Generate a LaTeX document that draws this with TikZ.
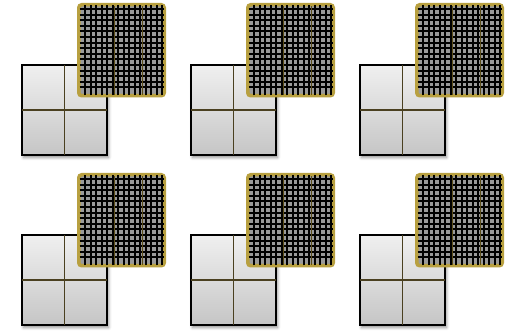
\documentclass[tikz,border=0pt]{standalone}
\usetikzlibrary{shadows.blur}
\definecolor{goldc}{HTML}{B8A040}
\definecolor{olivec}{HTML}{5A4C18}
\definecolor{midc}{HTML}{4A4020}
\definecolor{cellc}{HTML}{9A9A9A}
\tikzset{
  graybox/.style={draw=black, line width=1.5pt, top color=gray!12, bottom color=gray!45,
    minimum width=85pt, minimum height=90pt, inner sep=0pt, outer sep=0pt,
    blur shadow={shadow xshift=1.5pt, shadow yshift=-2.5pt, shadow blur radius=3pt, shadow opacity=45}},
  goldbox/.style={draw=goldc, fill=cellc, line width=3.5pt, rounded corners=3pt,
    minimum width=85.5pt, minimum height=91pt, inner sep=0pt, outer sep=0pt},
  midline/.style={draw=midc, line width=1.3pt},
  gridline/.style={draw=black, line width=2pt},
  oliveline/.style={draw=olivec, line width=0.7pt}
}
\begin{document}
\begin{tikzpicture}[x=1pt,y=1pt]
\useasboundingbox (0,0) rectangle (509,332);
\foreach \dx/\dy/\t in {0/0/1,169/0/2,338/0/3,0/170/4,169/170/5,338/170/6}{
  \begin{scope}[shift={(\dx,-\dy)}]
    \node[graybox] (g\t) at (64.5,222) {};
    \draw[midline] (g\t.north) -- (g\t.south);
    \draw[midline] (g\t.west) -- (g\t.east);
    \node[goldbox] (h\t) at (121.5,281.75) {};
    \foreach \k in {0,...,14}{
      \draw[gridline] ({85+5.5*\k},236.5) -- ({85+5.5*\k},326.5);
      \draw[gridline] (79.5,{323-5.6*\k}) -- (164,{323-5.6*\k});
    }
    \draw[oliveline] (114.7,237) -- (114.7,326);
    \draw[oliveline] (142.3,237) -- (142.3,326);
  \end{scope}
}
\end{tikzpicture}
\end{document}
